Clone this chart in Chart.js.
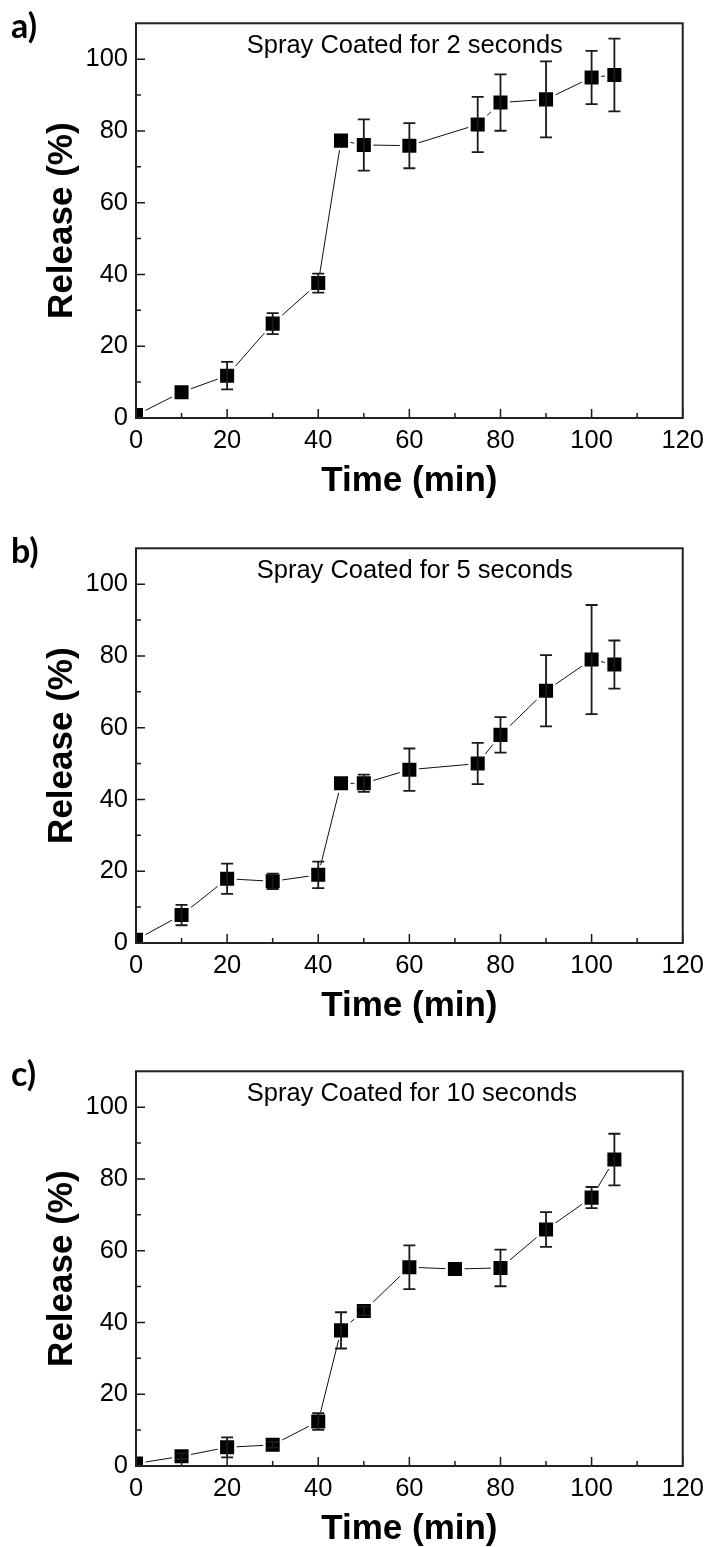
<!DOCTYPE html>
<html><head><meta charset="utf-8">
<script src="https://cdn.jsdelivr.net/npm/chart.js@4.4.1/dist/chart.umd.min.js"></script>
<style>
html,body{margin:0;padding:0;background:#fff;overflow:hidden;width:712px;height:1547px}
#wrap{position:relative;width:712px;height:1547px;overflow:hidden;background:#fff}
.panel{position:absolute;left:0;width:712px;height:523px}
canvas{display:block}
</style></head><body>
<div id="wrap">
<div class="panel" style="top:0"><canvas id="ca" width="712" height="523"></canvas></div>
<div class="panel" style="top:525px"><canvas id="cb" width="712" height="523"></canvas></div>
<div class="panel" style="top:1048px"><canvas id="cc" width="712" height="523"></canvas></div>
</div>
<script>
// ---- data ----
const timeA = [0, 10, 20, 30, 40, 45, 50, 60, 75, 80, 90, 100, 105];
const releaseA = [0.8, 7.2, 11.8, 26.3, 37.6, 77.3, 76.1, 75.9, 81.8, 87.9, 88.8, 94.9, 95.6];
const errA = [0, 0, 3.85, 2.95, 2.65, 0, 7.15, 6.3, 7.7, 7.85, 10.6, 7.4, 10.15];

const timeB = [0, 10, 20, 30, 40, 45, 50, 60, 75, 80, 90, 100, 105];
const releaseB = [0.9, 7.8, 17.9, 17.2, 19.0, 44.5, 44.5, 48.3, 50.0, 58.0, 70.3, 79.0, 77.6];
const errB = [0, 2.85, 4.2, 2.15, 3.7, 0, 2.4, 5.9, 5.75, 4.95, 9.95, 15.2, 6.7];

const timeC = [0, 10, 20, 30, 40, 45, 50, 60, 70, 80, 90, 100, 105];
const releaseC = [0.7, 2.7, 5.2, 5.9, 12.4, 37.8, 43.2, 55.4, 54.9, 55.2, 65.9, 74.8, 85.4];
const errC = [0, 0.8, 2.8, 0.8, 2.35, 5.05, 1.2, 6.1, 0, 5.1, 4.85, 2.95, 7.2];

const xTickValues = [0, 20, 40, 60, 80, 100, 120];
const xMinorTicks = [10, 30, 50, 70, 90, 110];
const yTickValues = [0, 20, 40, 60, 80, 100];
const yMinorTicks = [10, 30, 50, 70, 90];

const panelLabels = ['a)', 'b)', 'c)'];
const panelNotes = ['Spray Coated for 2 seconds', 'Spray Coated for 5 seconds', 'Spray Coated for 10 seconds'];
const xTitle = 'Time (min)';
const yTitle = 'Release (%)';

// ---- drawing ----
const FONT = "'Liberation Sans', Arial, Helvetica, sans-serif";

const decor = {
  id: 'decor',
  afterDatasetsDraw(chart, args, opts) {
    const ctx = chart.ctx, xs = chart.scales.x, ys = chart.scales.y;
    const ds = chart.data.datasets[0];
    ctx.save();
    ctx.strokeStyle = '#1a1a1a';
    ctx.lineWidth = 1.8;
    ds.errs.forEach((e, i) => {
      if (!e) return;
      const x = xs.getPixelForValue(ds.data[i].x);
      const y1 = ys.getPixelForValue(ds.data[i].y + e);
      const y2 = ys.getPixelForValue(ds.data[i].y - e);
      ctx.beginPath();
      ctx.moveTo(x, y1); ctx.lineTo(x, y2);
      ctx.moveTo(x - 6, y1); ctx.lineTo(x + 6, y1);
      ctx.moveTo(x - 6, y2); ctx.lineTo(x + 6, y2);
      ctx.stroke();
    });
    ctx.restore();
  },
  afterDraw(chart, args, opts) {
    const ctx = chart.ctx, a = chart.chartArea, xs = chart.scales.x, ys = chart.scales.y;
    ctx.save();
    // inward tick marks
    ctx.strokeStyle = '#1a1a1a';
    ctx.lineWidth = 1.5;
    ctx.beginPath();
    xTickValues.forEach(v => { const x = xs.getPixelForValue(v); ctx.moveTo(x, a.bottom); ctx.lineTo(x, a.bottom - 9); });
    xMinorTicks.forEach(v => { const x = xs.getPixelForValue(v); ctx.moveTo(x, a.bottom); ctx.lineTo(x, a.bottom - 5); });
    yTickValues.forEach(v => { const y = ys.getPixelForValue(v); ctx.moveTo(a.left, y); ctx.lineTo(a.left + 9, y); });
    yMinorTicks.forEach(v => { const y = ys.getPixelForValue(v); ctx.moveTo(a.left, y); ctx.lineTo(a.left + 5, y); });
    ctx.stroke();
    // frame
    ctx.strokeStyle = '#222';
    ctx.lineWidth = 2;
    ctx.strokeRect(a.left, a.top, a.right - a.left, a.bottom - a.top);
    // annotation
    ctx.fillStyle = '#000';
    ctx.font = '25.5px ' + FONT;
    ctx.textAlign = 'left';
    ctx.textBaseline = 'alphabetic';
    ctx.fillText(opts.note, xs.getPixelForValue(opts.noteX), ys.getPixelForValue(opts.noteY));
    // panel label
    ctx.font = "bold 34px Lato, 'Open Sans', sans-serif";
    ctx.textBaseline = 'middle';
    ctx.fillText(opts.label, 11, 27);
    ctx.restore();
  }
};

function makeChart(id, idx, times, values, errs, noteX) {
  const data = times.map((t, i) => ({x: t, y: values[i]}));
  return new Chart(document.getElementById(id), {
    type: 'line',
    data: {datasets: [{
      data, errs,
      borderColor: '#111', borderWidth: 1, tension: 0, fill: false,
      pointStyle: 'rect', pointRadius: 11.7, pointHoverRadius: 11.7,
      pointBackgroundColor: '#000', pointBorderColor: '#fff', pointBorderWidth: 2.5,
      pointHoverBorderWidth: 2.5, clip: 0
    }]},
    options: {
      responsive: false, animation: false, events: [],
      layout: {autoPadding: false, padding: {left: 0, right: 24, top: 13, bottom: 0}},
      plugins: {
        legend: {display: false}, tooltip: {enabled: false},
        decor: {label: panelLabels[idx], note: panelNotes[idx], noteX: noteX, noteY: 101.8}
      },
      scales: {
        x: {
          type: 'linear', min: 0, max: 120,
          grid: {display: false, drawTicks: false}, border: {display: false},
          afterBuildTicks: s => { s.ticks = xTickValues.map(v => ({value: v})); },
          afterFit: s => { s.height = 105; },
          ticks: {padding: 8, color: '#000', autoSkip: false, maxRotation: 0, font: {family: FONT, size: 25.5}},
          title: {display: true, text: xTitle, color: '#000', padding: {top: 0, bottom: 21},
                  font: {family: FONT, size: 35, weight: 'bold'}}
        },
        y: {
          type: 'linear', min: 0, max: 110,
          grid: {display: false, drawTicks: false}, border: {display: false},
          afterBuildTicks: s => { s.ticks = yTickValues.map(v => ({value: v})); },
          afterFit: s => { s.width = 136; },
          ticks: {padding: 8, color: '#000', autoSkip: false, font: {family: FONT, size: 25.5}},
          title: {display: true, text: yTitle, color: '#000', padding: {top: 41, bottom: 0},
                  font: {family: FONT, size: 35, weight: 'bold'}}
        }
      }
    },
    plugins: [decor]
  });
}

makeChart('ca', 0, timeA, releaseA, errA, 24.3);
makeChart('cb', 1, timeB, releaseB, errB, 26.5);
makeChart('cc', 2, timeC, releaseC, errC, 24.3);
</script>
</body></html>
